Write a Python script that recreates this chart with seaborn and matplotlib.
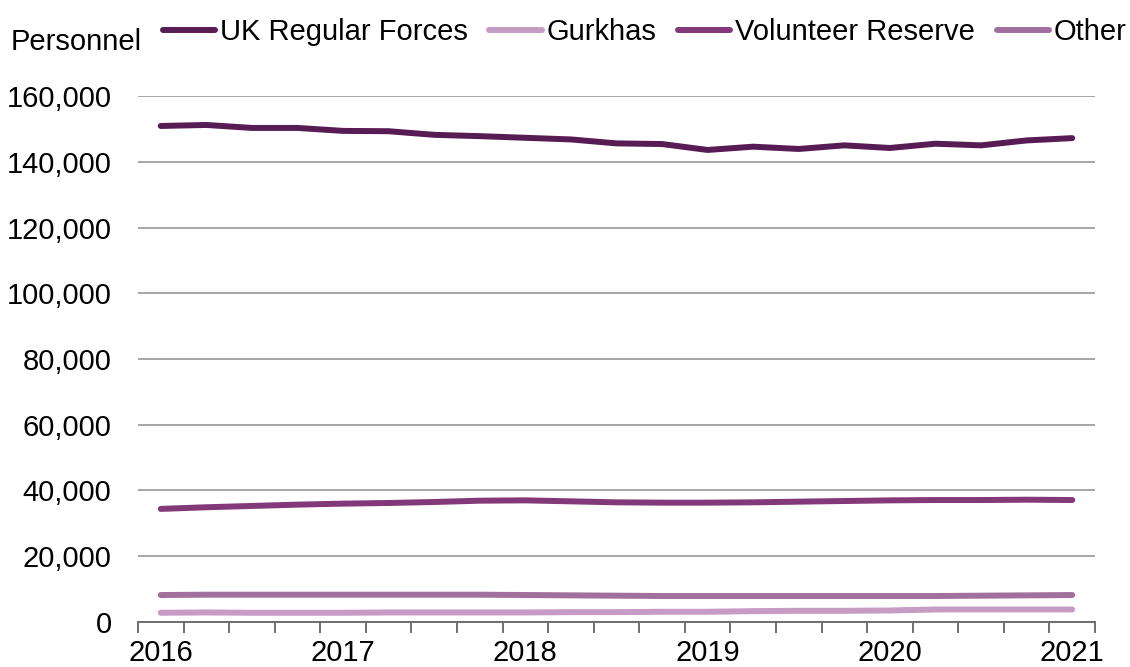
import numpy as np
import pandas as pd
import matplotlib
matplotlib.use("Agg")
import matplotlib.pyplot as plt
import seaborn as sns

# Quarterly personnel, 21 points from 2016 to 2021
quarters = list(range(21))
year_labels = ['2016', '2017', '2018', '2019', '2020', '2021']
year_pos = [0, 4, 8, 12, 16, 20]

uk_regular = [150900, 151200, 150300, 150300, 149400, 149300, 148200, 147800, 147300,
              146800, 145600, 145400, 143600, 144600, 143900, 145000, 144200, 145500,
              145000, 146500, 147200]
gurkhas = [2800, 2900, 2800, 2800, 2800, 2900, 2900, 2900, 2900, 3000, 3000, 3100,
           3100, 3300, 3400, 3400, 3500, 3800, 3800, 3800, 3800]
volunteer = [34400, 34900, 35300, 35700, 36000, 36200, 36500, 36900, 37000, 36700,
             36400, 36300, 36300, 36400, 36600, 36800, 37000, 37100, 37100, 37200, 37100]
other = [8200, 8300, 8300, 8300, 8300, 8300, 8300, 8300, 8200, 8100, 8000, 7900,
         7900, 7900, 7900, 7900, 7900, 7900, 8000, 8100, 8200]

series = ['UK Regular Forces', 'Gurkhas', 'Volunteer Reserve', 'Other']
colors = {'UK Regular Forces': '#571c54', 'Gurkhas': '#c69cc4',
          'Volunteer Reserve': '#823879', 'Other': '#a2709f'}

df = pd.concat([
    pd.DataFrame({'Quarter': quarters, 'Personnel': vals, 'Series': name})
    for name, vals in zip(series, [uk_regular, gurkhas, volunteer, other])
])

sns.set_theme(style='white')
plt.rcParams['font.family'] = ['Liberation Sans', 'DejaVu Sans']
plt.rcParams['text.color'] = 'black'
plt.rcParams['xtick.color'] = 'black'
plt.rcParams['ytick.color'] = 'black'

fig = plt.figure(figsize=(11.3, 6.67), dpi=100)
ax = fig.add_axes([0.1221, 0.0675, 0.8469, 0.7885])

sns.lineplot(data=df, x='Quarter', y='Personnel', hue='Series', hue_order=series,
             palette=colors, linewidth=4.3, ax=ax, legend=False,
             solid_capstyle='round')

ax.set_xlim(-0.5, 20.5)
ax.set_ylim(0, 160000)
ax.set_yticks(np.arange(0, 160001, 20000))
ax.set_yticklabels([f'{v:,}' for v in range(0, 160001, 20000)], fontsize=21)
ax.yaxis.grid(True, color='#a6a6a6', linewidth=1.4)
ax.set_axisbelow(True)

ax.set_xticks(year_pos)
ax.set_xticklabels(year_labels, fontsize=21)
ax.set_xticks(np.arange(-0.5, 21, 1), minor=True)
ax.tick_params(axis='x', which='major', length=0, pad=12)
ax.tick_params(axis='x', which='minor', length=8, width=1.4, color='#6f6f6f',
               direction='out', bottom=True)
ax.tick_params(axis='y', length=0, pad=19)
ax.set_xlabel('')
ax.set_ylabel('')

for s in ['top', 'right', 'left']:
    ax.spines[s].set_visible(False)
ax.spines['bottom'].set_color('#6f6f6f')
ax.spines['bottom'].set_linewidth(1.4)

handles = [plt.Line2D([], [], color=colors[s], linewidth=4.3, solid_capstyle='round')
           for s in series]
fig.legend(handles, series, loc='upper right', bbox_to_anchor=(1.02, 1.012), ncol=4,
           frameon=False, fontsize=21, handlelength=1.8, handletextpad=0.15,
           columnspacing=0.75)

fig.text(0.009, 0.937, 'Personnel', fontsize=21, va='center', ha='left')

fig.savefig('out.png', dpi=100)
